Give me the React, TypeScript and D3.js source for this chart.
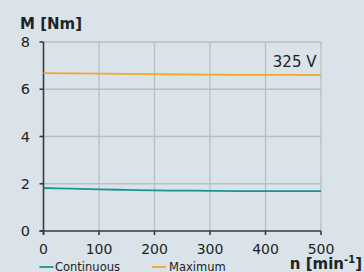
import React from 'react';
import * as d3 from 'd3';

const speeds = [0, 50, 100, 150, 200, 250, 300, 350, 400, 450, 500];
const continuous = [1.82, 1.79, 1.76, 1.74, 1.72, 1.71, 1.7, 1.69, 1.69, 1.69, 1.69];
const maximum = [6.68, 6.67, 6.66, 6.65, 6.64, 6.63, 6.62, 6.61, 6.61, 6.61, 6.6];
const xTicks = [0, 100, 200, 300, 400, 500];
const yTicks = [0, 2, 4, 6, 8];

const width = 364;
const height = 272;
const margin = { left: 43.5, right: 43, top: 42, bottom: 41 };

const App: React.FC = () => {
    const x = d3.scaleLinear().domain([0, 500]).range([margin.left, width - margin.right]);
    const y = d3.scaleLinear().domain([0, 8]).range([height - margin.bottom, margin.top]);

    const line = d3.line<number>()
        .x((_, i) => x(speeds[i]))
        .y(d => y(d))
        .curve(d3.curveMonotoneX);

    const font = 'DejaVu Sans, Verdana, sans-serif';

    return (
        <svg width={width} height={height} style={{ position: 'absolute', left: 0, top: 0, background: '#dae3ea' }}>
            {/* grid */}
            {xTicks.slice(1).map(t => (
                <line key={'gx' + t} x1={x(t)} x2={x(t)} y1={y(8)} y2={y(0)} stroke="#b8bec3" strokeWidth={1.3} />
            ))}
            {yTicks.slice(1).map(t => (
                <line key={'gy' + t} x1={x(0)} x2={x(500)} y1={y(t)} y2={y(t)} stroke="#b8bec3" strokeWidth={1.3} />
            ))}
            {/* axes */}
            <line x1={x(0)} x2={x(0)} y1={y(8)} y2={y(0) + 4} stroke="#3a3a3a" strokeWidth={1.6} />
            <line x1={x(0) - 4} x2={x(500)} y1={y(0)} y2={y(0)} stroke="#3a3a3a" strokeWidth={1.6} />
            {yTicks.map(t => (
                <g key={'ty' + t}>
                    <line x1={x(0) - 4} x2={x(0)} y1={y(t)} y2={y(t)} stroke="#3a3a3a" strokeWidth={1.6} />
                    <text x={x(0) - 13.5} y={y(t)} dy="0.36em" textAnchor="end" fontFamily={font} fontSize={14.5} fill="#222">{t}</text>
                </g>
            ))}
            {xTicks.map(t => (
                <g key={'tx' + t}>
                    <line x1={x(t)} x2={x(t)} y1={y(0)} y2={y(0) + 4} stroke="#3a3a3a" strokeWidth={1.6} />
                    <text x={x(t)} y={y(0) + 18} dy="0.36em" textAnchor="middle" fontFamily={font} fontSize={14} fill="#222">{t}</text>
                </g>
            ))}
            {/* series */}
            <path d={line(maximum) || ''} fill="none" stroke="#f5a623" strokeWidth={1.8} />
            <path d={line(continuous) || ''} fill="none" stroke="#17958f" strokeWidth={1.8} />
            {/* labels */}
            <text x={20} y={29} fontFamily={font} fontSize={15} fontWeight="bold" fill="#222">M [Nm]</text>
            <text x={316.5} y={67} textAnchor="end" fontFamily={font} fontSize={15} fill="#222">325 V</text>
            <text x={362} y={268.5} textAnchor="end" fontFamily={font} fontSize={15} fontWeight="bold" fill="#222">n [min<tspan fontSize={10} dy={-6}>-1</tspan><tspan dy={6}>]</tspan></text>
            {/* legend */}
            <line x1={39.5} x2={53.5} y1={267} y2={267} stroke="#17958f" strokeWidth={1.8} />
            <text x={55} y={270.5} fontFamily={font} fontSize={11.5} fill="#222">Continuous</text>
            <line x1={152} x2={166} y1={267} y2={267} stroke="#f5a623" strokeWidth={1.8} />
            <text x={169} y={270.5} fontFamily={font} fontSize={11.5} fill="#222">Maximum</text>
        </svg>
    );
};

export default App;
